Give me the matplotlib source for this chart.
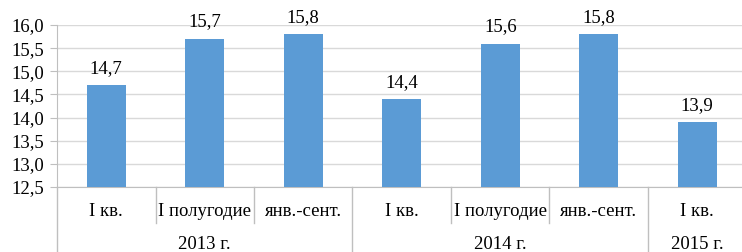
import matplotlib
matplotlib.use("Agg")
import matplotlib.pyplot as plt
from matplotlib.transforms import blended_transform_factory

periods = ["I кв.", "I полугодие", "янв.-сент.", "I кв.", "I полугодие", "янв.-сент.", "I кв."]
years = ["2013 г.", "2014 г.", "2015 г."]
year_sizes = [3, 3, 1]
values = [14.7, 15.7, 15.8, 14.4, 15.6, 15.8, 13.9]
yticks = [12.5, 13.0, 13.5, 14.0, 14.5, 15.0, 15.5, 16.0]

plt.rcParams['font.family'] = ['Liberation Serif', 'DejaVu Serif']
fs = 13.5
W, H = 742, 252
fig = plt.figure(figsize=(W/100, H/100), dpi=100)
left, right, top, bottom = 57, 746.5, 25, 187
ax = fig.add_axes([left/W, 1-bottom/H, (right-left)/W, (bottom-top)/H])

x = list(range(len(values)))
ax.bar(x, values, width=0.4, color="#5B9BD5", zorder=3)
ax.set_xlim(-0.5, len(values)-0.5)
ax.set_ylim(12.5, 16.0)
ax.set_yticks(yticks)
ax.set_yticklabels([f"{v:.1f}".replace(".", ",") for v in yticks], fontsize=fs, color="#000000")
ax.yaxis.grid(True, color="#d9d9d9", linewidth=1, zorder=0)
ax.tick_params(axis="y", length=5, color="#bfbfbf", pad=4.5)
ax.set_xticks([])
for s in ["top", "right"]:
    ax.spines[s].set_visible(False)
ax.spines["left"].set_color("#bfbfbf")
ax.spines["bottom"].set_color("#bfbfbf")

for xi, v in zip(x, values):
    ax.annotate(f"{v:.1f}".replace(".", ","), (xi, v), xytext=(0, 6), textcoords="offset points",
                ha="center", va="bottom", fontsize=fs, color="#000000")

tr = blended_transform_factory(ax.transData, ax.transAxes)
for xi, p in zip(x, periods):
    ax.text(xi, -0.15, p, transform=tr, ha="center", va="center", fontsize=fs, clip_on=False)

# separators
year_bounds = []
pos = 0
for ys in year_sizes:
    year_bounds.append((pos, pos + ys))
    pos += ys
long_x = set()
for (a, b), yl in zip(year_bounds, years):
    ax.text((a + b - 1) / 2, -0.355, yl, transform=tr, ha="center", va="center", fontsize=fs, clip_on=False)
    long_x.add(a - 0.5)
for i in range(len(values)):
    bx = i - 0.5
    if bx in long_x:
        ax.plot([bx, bx], [0, -0.45], transform=tr, color="#bfbfbf", lw=1, clip_on=False)
    else:
        ax.plot([bx, bx], [0, -0.22], transform=tr, color="#bfbfbf", lw=1, clip_on=False)

fig.savefig("out.png", dpi=100)
